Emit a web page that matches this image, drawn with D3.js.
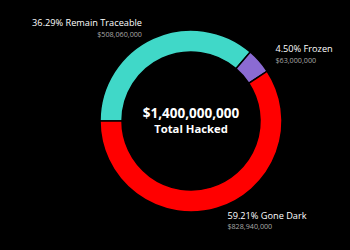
<!DOCTYPE html>
<html lang="en">
<head>
<meta charset="UTF-8">
<title>Total Hacked</title>
<script src="https://d3js.org/d3.v7.min.js"></script>
<style>
  html, body { margin: 0; padding: 0; background: #000; }
  svg { display: block; }
</style>
</head>
<body>
<svg width="350" height="250"></svg>
<script>
// data
const categories = ["Remain Traceable", "Frozen", "Gone Dark"];
const amounts = [508060000, 63000000, 828940000];
const percents = [36.29, 4.50, 59.21];
const colors = ["#40D8C8", "#8B6BD3", "#FF0000"];
const totalLabel = "$1,400,000,000";
const totalCaption = "Total Hacked";

const cx = 191, cy = 121;
const outerR = 91, innerR = 69;

const svg = d3.select("svg");
const fontFamily = "'Open Sans', 'Noto Sans', sans-serif";

const slices = categories.map((c, i) => ({ name: c, value: amounts[i], pct: percents[i], color: colors[i] }));

// start at 9 o'clock, go clockwise
const pie = d3.pie()
    .sort(null)
    .value(d => d.value)
    .startAngle(-Math.PI / 2)
    .endAngle(Math.PI * 1.5);

const arc = d3.arc().innerRadius(innerR).outerRadius(outerR);

const g = svg.append("g").attr("transform", `translate(${cx},${cy})`);

const arcs = pie(slices);

g.selectAll("path")
    .data(arcs)
    .enter().append("path")
    .attr("d", arc)
    .attr("fill", d => d.data.color)
    .attr("stroke", "#000")
    .attr("stroke-width", 1.5);

// center text
g.append("text")
    .attr("text-anchor", "middle")
    .attr("y", -3)
    .attr("fill", "#fff")
    .style("font-family", fontFamily)
    .style("font-weight", "bold")
    .style("font-size", "13.5px")
    .text(totalLabel);

g.append("text")
    .attr("text-anchor", "middle")
    .attr("y", 12)
    .attr("fill", "#fff")
    .style("font-family", fontFamily)
    .style("font-weight", "bold")
    .style("font-size", "11.3px")
    .text(totalCaption);

// outside labels
const labelR = 103;
const fmtPct = d3.format(".2f");
const fmtMoney = d3.format("$,");

arcs.forEach(d => {
    const mid = (d.startAngle + d.endAngle) / 2;
    const rightSide = Math.sin(mid) > 0;
    const x = labelR * Math.sin(mid) + (rightSide ? 7 : -6);
    const y = -labelR * Math.cos(mid);
    const anchor = rightSide ? "start" : "end";

    const lab = g.append("g").attr("transform", `translate(${x},${y})`);
    lab.append("text")
        .attr("text-anchor", anchor)
        .attr("y", -1)
        .attr("fill", "#fff")
        .style("font-family", fontFamily)
        .style("font-size", "9.2px")
        .text(`${fmtPct(d.data.pct)}% ${d.data.name}`);
    lab.append("text")
        .attr("text-anchor", anchor)
        .attr("y", 9.6)
        .attr("fill", "#a8a8a8")
        .style("font-family", fontFamily)
        .style("font-size", "7.2px")
        .text(fmtMoney(d.data.value));
});
</script>
</body>
</html>
